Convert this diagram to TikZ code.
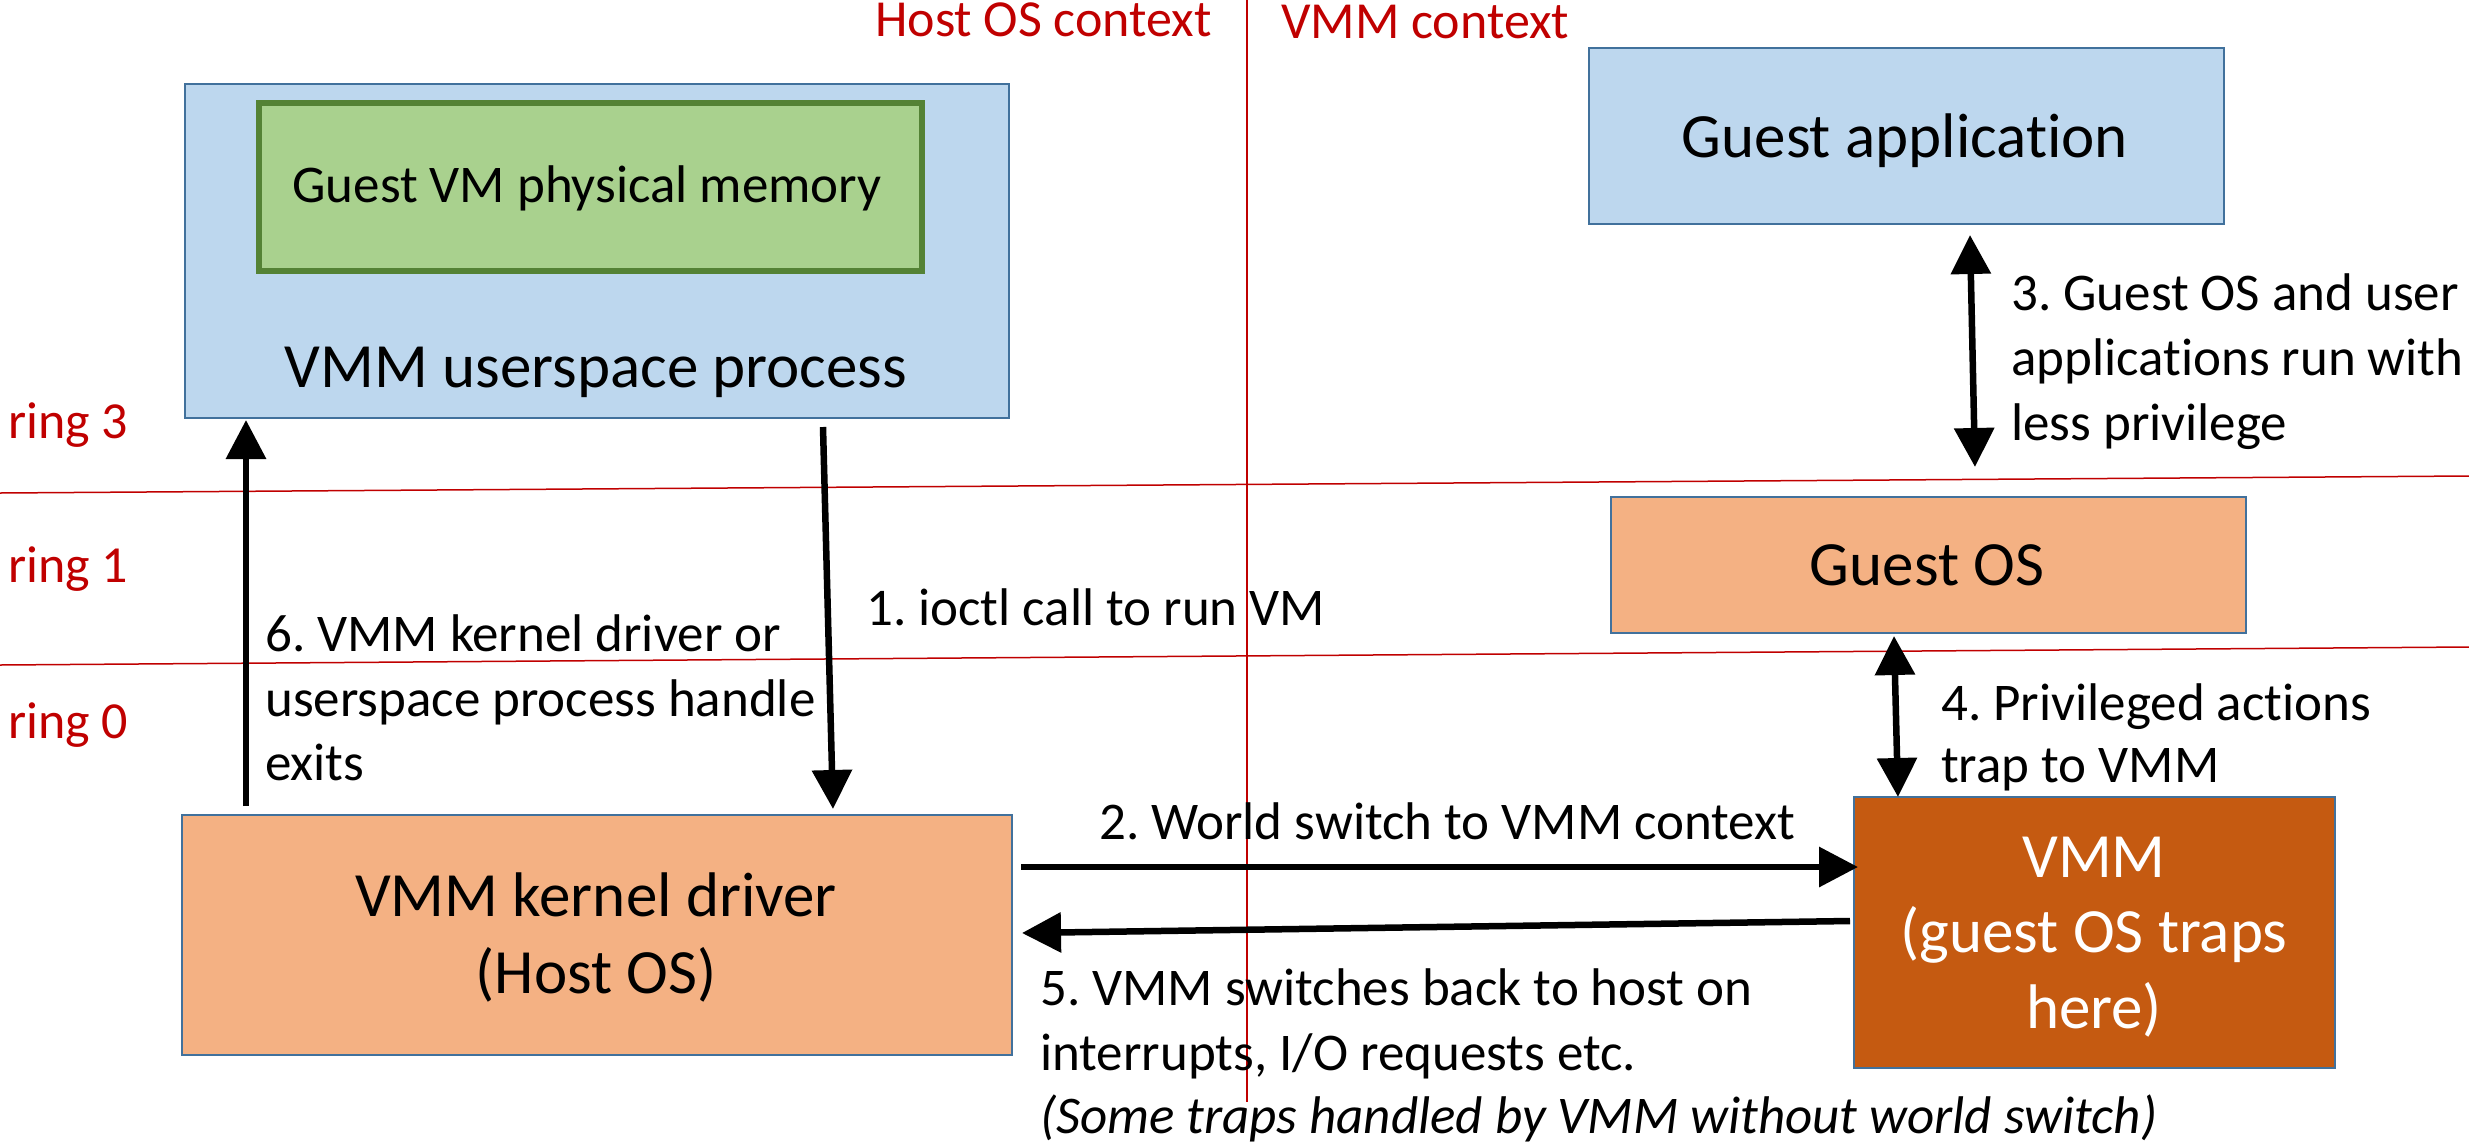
\documentclass[tikz,border=0pt]{standalone}
\usepackage{fontspec}
\setmainfont{Carlito}[Ligatures=NoCommon]
\usetikzlibrary{arrows.meta,calc}
\definecolor{boxblue}{HTML}{BDD7EE}
\definecolor{edgeblue}{HTML}{41719C}
\definecolor{boxorange}{HTML}{F4B183}
\definecolor{vmmorange}{HTML}{C55A11}
\definecolor{memgreen}{HTML}{A9D18E}
\definecolor{memedge}{HTML}{548235}
\definecolor{ringred}{HTML}{C00000}
\begin{document}
\frenchspacing
\begin{tikzpicture}[x=1pt,y=-1pt,
  box/.style={draw=edgeblue, line width=2pt, anchor=north west, inner sep=0pt},
  membox/.style={draw=memedge, fill=memgreen, line width=5.5pt, anchor=north west, inner sep=0pt},
  title/.style={anchor=base, inner sep=0pt, font=\fontsize{63}{76}\selectfont},
  lbl/.style={anchor=base west, inner sep=0pt, font=\fontsize{53}{65}\selectfont},
  ringlbl/.style={anchor=base west, inner sep=0pt, text=ringred, font=\fontsize{52}{63}\selectfont},
  redline/.style={draw=ringred, line width=1.5pt},
  arr/.style={line width=6.5pt, -{Triangle[length=39pt,width=39pt]}},
  darr/.style={line width=6.5pt, {Triangle[length=39pt,width=39pt]}-{Triangle[length=39pt,width=39pt]}}]
\useasboundingbox (0,0) rectangle (2469,1144);

% ring separators and context divider
\draw[redline] (0,493) -- (2469,476);
\draw[redline] (0,665) -- (2469,647);
\draw[redline, line width=1.2pt] (1247,0) -- (1247,1102);

% boxes
\node[box, fill=boxblue, minimum width=824pt, minimum height=334pt] (usp) at (184,83) {};
\node[membox, minimum width=663pt, minimum height=168pt] (mem) at (256,100) {};
\node[box, fill=boxblue, minimum width=635pt, minimum height=176pt] (gapp) at (1588,47) {};
\node[box, fill=boxorange, minimum width=635pt, minimum height=136pt] (gos) at (1610,496) {};
\node[box, fill=boxorange, minimum width=830pt, minimum height=240pt] (kd) at (181,814) {};
\node[box, fill=vmmorange, minimum width=481pt, minimum height=271pt] (vmm) at (1853,796) {};

% box texts
\node[title] (uspT) at (596,387) {VMM userspace process};
\node[title, font=\fontsize{53}{65}\selectfont] (memT) at (587,202) {Guest VM physical memory};
\node[title] (gappT) at (1905,157) {Guest application};
\node[title] (gosT) at (1927,585) {Guest OS};
\node[title] (kdT1) at (596,916) {VMM kernel driver};
\node[title] (kdT2) at (596,993) {(Host OS)};
\node[title, text=white] (vmmT1) at (2094,877) {VMM};
\node[title, text=white] (vmmT2) at (2094,952) {(guest OS traps};
\node[title, text=white] (vmmT3) at (2094,1028) {here)};

% red labels
\node[ringlbl] (hostctx) at (875,36) {Host OS context};
\node[ringlbl] (vmmctx) at (1281,38) {VMM context};
\node[ringlbl] (r3) at (8,438) {ring 3};
\node[ringlbl] (r1) at (8,582) {ring 1};
\node[ringlbl] (r0) at (8,738) {ring 0};

% arrows
\draw[arr] ($(usp.south west)+(639,8)$) -- ($(kd.north west)+(652,-5)$);
\draw[arr] ($(kd.north west)+(65,-8)$) -- ($(usp.south west)+(62,1)$);
\draw[arr] ($(kd.north east)+(8,53)$) -- ($(vmm.north west)+(5,71)$);
\draw[arr] ($(vmm.north west)+(-3,125)$) -- ($(kd.north east)+(9,119)$);
\draw[darr] ($(gapp.south west)+(382,10)$) -- ($(gos.north west)+(365,-29)$);
\draw[darr] ($(gos.south west)+(284,2)$) -- ($(vmm.north west)+(45,1)$);

% arrow labels
\node[lbl] (l1) at (866,625) {1. ioctl call to run VM};
\node[lbl] (l2) at (1099,839) {2. World switch to VMM context};
\node[lbl] (l3a) at (2011,310) {3. Guest OS and user};
\node[lbl] (l3b) at (2011,375) {applications run with};
\node[lbl] (l3c) at (2011,440) {less privilege};
\node[lbl] (l4a) at (1941,720) {4. Privileged actions};
\node[lbl] (l4b) at (1941,782) {trap to VMM};
\node[lbl] (l5a) at (1040,1005) {5. VMM switches back to host on};
\node[lbl] (l5b) at (1040,1070) {interrupts, I/O requests etc.};
\node[lbl, font=\fontsize{53}{65}\selectfont\itshape] (l5c) at (1040,1133) {(Some traps handled by VMM without world switch)};
\node[lbl] (l6a) at (265,651) {6. VMM kernel driver or};
\node[lbl] (l6b) at (265,716) {userspace process handle};
\node[lbl] (l6c) at (265,780) {exits};
\end{tikzpicture}
\end{document}
